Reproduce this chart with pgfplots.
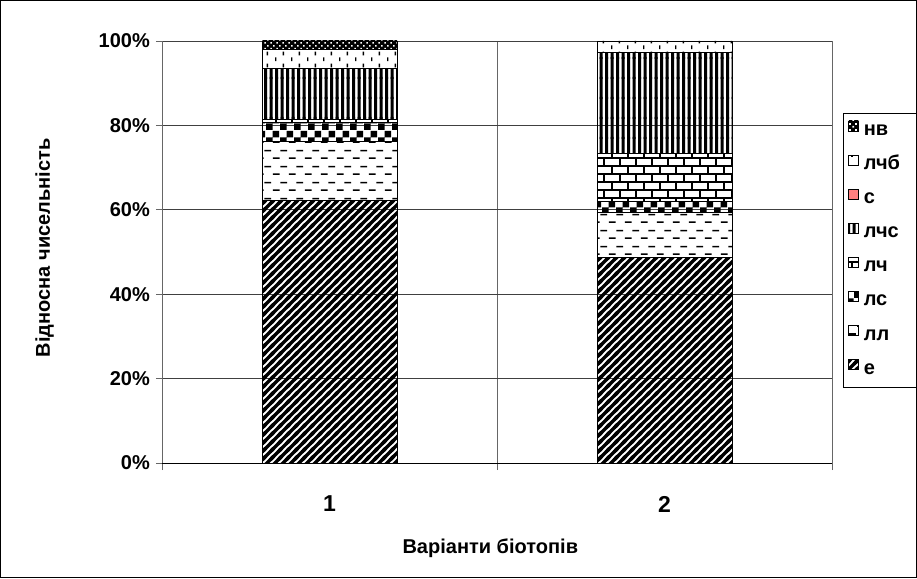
\documentclass[border=0pt]{standalone}
\usepackage{fontspec}
\setmainfont{Liberation Sans}
\usepackage{pgfplots}
\pgfplotsset{compat=1.18}
\usetikzlibrary{patterns}

% е : thick diagonal stripes
\pgfdeclarepatternformonly{ediag}{\pgfqpoint{-2pt}{-2pt}}{\pgfqpoint{10pt}{10pt}}{\pgfqpoint{8pt}{8pt}}{%
  \pgfsetlinewidth{3.4pt}%
  \pgfpathmoveto{\pgfqpoint{-2pt}{-2pt}}\pgfpathlineto{\pgfqpoint{10pt}{10pt}}%
  \pgfpathmoveto{\pgfqpoint{-2pt}{6pt}}\pgfpathlineto{\pgfqpoint{2pt}{10pt}}%
  \pgfpathmoveto{\pgfqpoint{6pt}{-2pt}}\pgfpathlineto{\pgfqpoint{10pt}{2pt}}%
  \pgfusepath{stroke}}
% лл : staggered horizontal dashes
\pgfdeclarepatternformonly{lldash}{\pgfqpoint{0pt}{0pt}}{\pgfqpoint{16pt}{16pt}}{\pgfqpoint{16pt}{16pt}}{%
  \pgfsetlinewidth{1.6pt}%
  \pgfpathmoveto{\pgfqpoint{1pt}{4pt}}\pgfpathlineto{\pgfqpoint{8pt}{4pt}}%
  \pgfpathmoveto{\pgfqpoint{9pt}{12pt}}\pgfpathlineto{\pgfqpoint{16pt}{12pt}}%
  \pgfusepath{stroke}}
% лс : large checkerboard
\pgfdeclarepatternformonly{lscheck}{\pgfqpoint{0pt}{0pt}}{\pgfqpoint{14pt}{14pt}}{\pgfqpoint{14pt}{14pt}}{%
  \pgfpathrectangle{\pgfqpoint{0pt}{0pt}}{\pgfqpoint{7pt}{7pt}}%
  \pgfpathrectangle{\pgfqpoint{7pt}{7pt}}{\pgfqpoint{7pt}{7pt}}%
  \pgfusepath{fill}}
% лч : horizontal bricks
\pgfdeclarepatternformonly{lchbrick}{\pgfqpoint{-1pt}{-1pt}}{\pgfqpoint{17pt}{17pt}}{\pgfqpoint{16pt}{16pt}}{%
  \pgfsetlinewidth{1.5pt}%
  \pgfpathmoveto{\pgfqpoint{-1pt}{4pt}}\pgfpathlineto{\pgfqpoint{17pt}{4pt}}%
  \pgfpathmoveto{\pgfqpoint{-1pt}{12pt}}\pgfpathlineto{\pgfqpoint{17pt}{12pt}}%
  \pgfpathmoveto{\pgfqpoint{4pt}{4pt}}\pgfpathlineto{\pgfqpoint{4pt}{12pt}}%
  \pgfpathmoveto{\pgfqpoint{12pt}{12pt}}\pgfpathlineto{\pgfqpoint{12pt}{17pt}}%
  \pgfpathmoveto{\pgfqpoint{12pt}{-1pt}}\pgfpathlineto{\pgfqpoint{12pt}{4pt}}%
  \pgfusepath{stroke}}
% лчс : thick vertical stripes
\pgfdeclarepatternformonly{lchsvert}{\pgfqpoint{0pt}{-1pt}}{\pgfqpoint{11pt}{21pt}}{\pgfqpoint{11pt}{20pt}}{%
  \pgfpathrectangle{\pgfqpoint{0pt}{-1pt}}{\pgfqpoint{3pt}{22pt}}%
  \pgfpathrectangle{\pgfqpoint{5.5pt}{-1pt}}{\pgfqpoint{3pt}{22pt}}%
  \pgfusepath{fill}}
% лчб : small vertical dashes
\pgfdeclarepatternformonly{lchbdash}{\pgfqpoint{0pt}{0pt}}{\pgfqpoint{16pt}{12pt}}{\pgfqpoint{16pt}{12pt}}{%
  \pgfsetlinewidth{1.5pt}%
  \pgfpathmoveto{\pgfqpoint{4pt}{1pt}}\pgfpathlineto{\pgfqpoint{4pt}{5pt}}%
  \pgfpathmoveto{\pgfqpoint{12pt}{7pt}}\pgfpathlineto{\pgfqpoint{12pt}{11pt}}%
  \pgfusepath{stroke}}
% нв : black with white dots
\pgfdeclarepatterninherentlycolored{nvdots}{\pgfqpoint{0pt}{0pt}}{\pgfqpoint{6pt}{6pt}}{\pgfqpoint{6pt}{6pt}}{%
  \pgfsetfillcolor{black}%
  \pgfpathrectangle{\pgfqpoint{-0.5pt}{-0.5pt}}{\pgfqpoint{7pt}{7pt}}\pgfusepath{fill}%
  \pgfsetfillcolor{white}%
  \pgfpathrectangle{\pgfqpoint{0.5pt}{0.5pt}}{\pgfqpoint{1.8pt}{1.8pt}}%
  \pgfpathrectangle{\pgfqpoint{3.5pt}{3.5pt}}{\pgfqpoint{1.8pt}{1.8pt}}\pgfusepath{fill}}

\definecolor{spink}{HTML}{FF8080}
\newcommand{\legbox}[1]{\makebox[49pt][l]{#1}}

\begin{document}
\begin{tikzpicture}
\begin{axis}[name=ax, at={(0,0)}, anchor=south west,
  scale only axis, width=670pt, height=422pt,
  ybar stacked, bar width=135pt,
  xmin=0.5, xmax=2.5, ymin=0, ymax=100,
  xtick={1,2}, xticklabels={1,2}, minor xtick={0.5,1.5,2.5},
  ytick={0,20,40,60,80,100},
  yticklabels={0\%,20\%,40\%,60\%,80\%,100\%},
  axis x line*=bottom, axis y line*=left,
  x axis line style={black, line width=0.9pt, -},
  y axis line style={black!60, line width=0.9pt, -},
  tick align=outside,
  major tick length=6pt, minor tick length=7pt,
  xtick style={draw=none},
  minor x tick style={draw=black!60, line width=0.9pt},
  ytick style={draw=black!60, line width=0.9pt},
  ymajorgrids, xminorgrids,
  major grid style={black!75, line width=0.8pt},
  minor grid style={black!60, line width=0.8pt},
  yticklabel style={font=\fontsize{20}{24}\selectfont\bfseries, inner sep=0pt, xshift=-6pt},
  xticklabel style={font=\fontsize{23}{27}\selectfont\bfseries, inner sep=0pt, anchor=center, yshift=-35pt},
  every axis x label/.style={at={(axis description cs:0.49,-0.2014)}, anchor=center,
     font=\fontsize{20}{24}\selectfont\bfseries},
  every axis y label/.style={at={(axis description cs:-0.175,0.51)}, anchor=center, rotate=90,
     font=\fontsize{20}{24}\selectfont\bfseries},
  xlabel={Варіанти біотопів},
  ylabel={Відносна чисельність},
  reverse legend,
  legend cell align=left,
  legend image code/.code={\draw[#1, line width=0.8pt] (0pt,0.5pt) rectangle (10pt,10.5pt); \path[draw=none, fill=none, pattern=none] (0pt,0pt) rectangle (15pt,1pt);},
  legend style={at={(axis description cs:1.0164,0.829)}, anchor=north west,
     draw=black, line width=0.8pt, inner xsep=5pt, inner ysep=7pt,
     font=\fontsize{20}{24}\selectfont\bfseries,
     row sep=13.2pt,
     nodes={inner sep=0pt, text height=14pt, text depth=6pt}},
]
\addplot[draw=black, line width=0.8pt, pattern=ediag] coordinates {(1,62.3) (2,48.8)};
\addplot[draw=black, line width=0.8pt, pattern=lldash] coordinates {(1,13.8) (2,10.7)};
\addplot[draw=black, line width=0.8pt, pattern=lscheck] coordinates {(1,4.7) (2,2.6)};
\addplot[draw=black, line width=0.8pt, pattern=lchbrick] coordinates {(1,0.6) (2,11.3)};
\addplot[draw=black, line width=0.8pt, pattern=lchsvert] coordinates {(1,12.1) (2,23.9)};
\addplot[draw=black, line width=0.8pt, fill=spink] coordinates {(1,0) (2,0)};
\addplot[draw=black, line width=0.8pt, pattern=lchbdash] coordinates {(1,4.4) (2,2.7)};
\addplot[draw=black, line width=0.8pt, pattern=nvdots] coordinates {(1,2.1) (2,0)};
\legend{\legbox{е},\legbox{лл},\legbox{лс},\legbox{лч},\legbox{лчс},\legbox{с},\legbox{лчб},\legbox{нв}}
\end{axis}
\draw[line width=1pt] ([shift={(-161pt,-114pt)}]ax.south west) rectangle ++(915pt,576pt);
\pgfresetboundingbox
\path ([shift={(-162pt,-115pt)}]ax.south west) rectangle ++(917pt,578pt);
\end{tikzpicture}
\end{document}
